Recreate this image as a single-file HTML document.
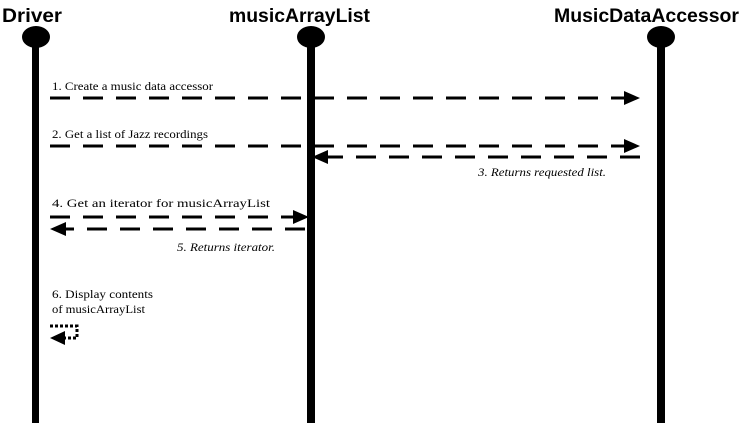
<!DOCTYPE html>
<html><head><meta charset="utf-8"><style>
html,body{margin:0;padding:0;background:#fff;}
svg{display:block;}
.t{font-family:"Liberation Sans",Arial,sans-serif;font-weight:bold;font-size:19px;}
.m{font-family:"Liberation Serif","Times New Roman",serif;font-size:11.5px;}
</style></head><body>
<svg width="745" height="429" viewBox="0 0 745 429" xmlns="http://www.w3.org/2000/svg">
<text class="t" x="2" y="22" textLength="60" lengthAdjust="spacingAndGlyphs">Driver</text>
<text class="t" x="229" y="22" textLength="141" lengthAdjust="spacingAndGlyphs">musicArrayList</text>
<text class="t" x="554" y="22" textLength="185" lengthAdjust="spacingAndGlyphs">MusicDataAccessor</text>
<g fill="#000">
<ellipse cx="36" cy="37" rx="14" ry="11"/>
<ellipse cx="311" cy="37" rx="14" ry="11"/>
<ellipse cx="661" cy="37" rx="14" ry="11"/>
<rect x="32" y="40" width="7" height="383"/>
<rect x="307" y="40" width="8" height="383"/>
<rect x="657" y="40" width="8" height="383"/>
</g>
<g stroke="#000" stroke-width="3" stroke-dasharray="20,13" fill="none">
<line x1="50" y1="98" x2="626" y2="98"/>
<line x1="50" y1="146" x2="626" y2="146"/>
<line x1="640" y1="157" x2="326" y2="157"/>
<line x1="50" y1="217" x2="294" y2="217"/>
<line x1="305" y1="229" x2="64" y2="229"/>
</g>
<g stroke="#000" stroke-width="3" stroke-dasharray="3,2" fill="none">
<polyline points="50,326 77,326 77,338 64,338"/>
</g>
<g fill="#000">
<polygon points="624,91 640,98 624,105"/>
<polygon points="624,139 640,146 624,153"/>
<polygon points="328,150 312,157 328,164"/>
<polygon points="293,210 309,217 293,224"/>
<polygon points="66,222 50,229 66,236"/>
<polygon points="65,331 50,338 65,345"/>
</g>
<text class="m" x="52" y="90" textLength="161" lengthAdjust="spacingAndGlyphs">1.  Create a music data accessor</text>
<text class="m" x="52" y="138" textLength="156" lengthAdjust="spacingAndGlyphs">2.  Get a list of Jazz recordings</text>
<text class="m" x="478" y="176" font-style="italic" textLength="128" lengthAdjust="spacingAndGlyphs">3.  Returns requested list.</text>
<text class="m" x="52" y="207" textLength="218" lengthAdjust="spacingAndGlyphs">4.  Get an iterator for musicArrayList</text>
<text class="m" x="177" y="251" font-style="italic" textLength="98" lengthAdjust="spacingAndGlyphs">5.  Returns iterator.</text>
<text class="m" x="52" y="298" textLength="101" lengthAdjust="spacingAndGlyphs">6.  Display contents</text>
<text class="m" x="52" y="313" textLength="93" lengthAdjust="spacingAndGlyphs">of musicArrayList</text>
</svg>
</body></html>
